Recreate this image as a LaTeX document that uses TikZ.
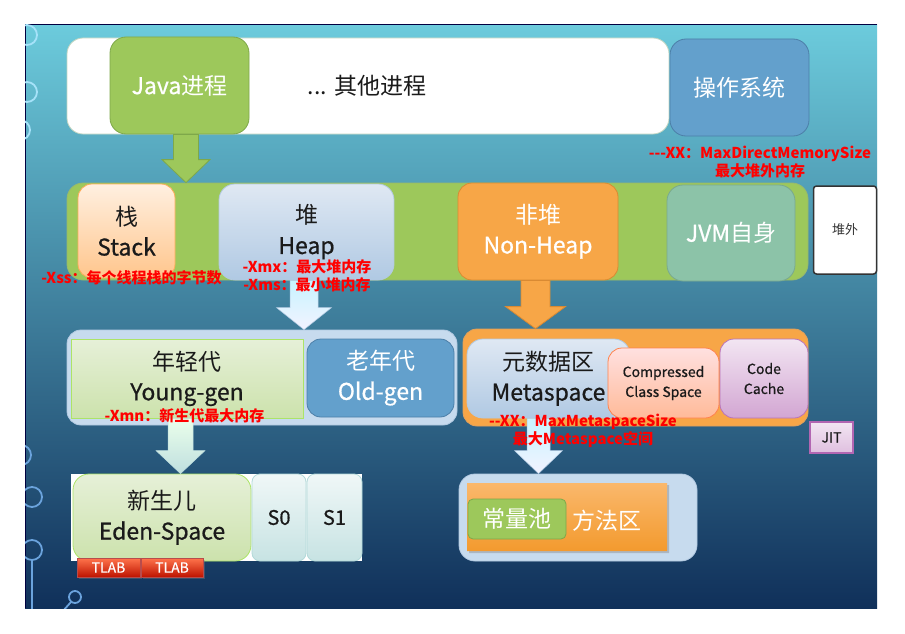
\documentclass[tikz,border=0pt]{standalone}
\usepackage{fontspec}
\setmainfont{Noto Sans CJK SC}
\newfontfamily\lat{Noto Sans CJK SC}[FakeBold=0.7]
\usetikzlibrary{calc,shadows,shapes.misc}
\definecolor{bgtop}{HTML}{6CCBDC}
\definecolor{bgmid}{HTML}{3F94BA}
\definecolor{bgbot}{HTML}{10305A}
\definecolor{gfill}{HTML}{9DC85B}
\definecolor{gedge}{HTML}{7EA84A}
\definecolor{bfill}{HTML}{63A0CC}
\definecolor{bedge}{HTML}{4C7FA8}
\definecolor{tfill}{HTML}{8CC3A8}
\definecolor{tedge}{HTML}{79A98F}
\definecolor{ofill}{HTML}{F7A647}
\definecolor{oedge}{HTML}{D98A33}
\definecolor{lbfill}{HTML}{C7DBEE}
\definecolor{lbedge}{HTML}{B3CAE2}
\definecolor{redtxt}{HTML}{FF0000}
\definecolor{darktxt}{HTML}{1A1A1A}
\definecolor{ygtop}{HTML}{E6F0D8}
\definecolor{ygbot}{HTML}{CCE2AC}
\definecolor{hptop}{HTML}{DFE8F3}
\definecolor{hpbot}{HTML}{B0C9E3}
\definecolor{mtop}{HTML}{FAB86C}
\definecolor{mbot}{HTML}{F39A2E}
\newcommand\blockarrow[6]{%
  \path[#1] let \p1=(#2), \p2=(#2 |- #3) in
  (\x1-#4pt,\y1) -- (\x1+#4pt,\y1) -- (\x1+#4pt,\y2+#6pt) -- (\x1+#5pt,\y2+#6pt)
  -- (\x1,\y2) -- (\x1-#5pt,\y2+#6pt) -- (\x1-#4pt,\y2+#6pt) -- cycle;}
\begin{document}
\begin{tikzpicture}[x=1pt,y=-1pt,
  box/.style={inner sep=0pt, align=center, line width=0.8pt},
  big/.style={font=\fontsize{23}{30}\selectfont},
  small/.style={font=\lat\fontsize{14}{20}\selectfont},
  redlbl/.style={inner sep=0pt, align=center, text=redtxt, font=\bfseries\fontsize{15}{18}\selectfont},
  decotop/.style={draw=cyan!35!white, line width=1.8pt},
  decobot/.style={draw=cyan!60!blue!60!white, line width=1.8pt},
  lbgrad/.style={top color=hptop, bottom color=hpbot, draw=lbedge},
  tlabstyle/.style={box, font=\lat\fontsize{14}{15}\selectfont, top color=red!55!orange!70!white, bottom color=red!70!black!85!orange, draw=red!60!black!70, minimum height=19pt, text=white, drop shadow={opacity=0.35, shadow xshift=1.5pt, shadow yshift=-1.5pt}},
  survivor/.style={box, font=\lat\fontsize{20}{24}\selectfont, top color=teal!6!white, bottom color=teal!22!white, draw=teal!30!white, rounded corners=8pt, minimum height=87pt, text=darktxt},
]
\useasboundingbox (0,0) rectangle (905,634);
\fill[white] (0,0) rectangle (905,634);
\shade[top color=bgtop, middle color=bgmid, bottom color=bgbot] (25,25) rectangle (877,608);
\draw[black!75!blue, line width=1pt] (25,608) -- (25,25) -- (877,25);
\begin{scope}
  \clip (25,25) rectangle (877,608);
  \draw[decotop] (27,35) circle (10pt);
  \draw[decotop] (27,92) circle (10pt);
  \draw[decotop] (20,130) circle (10pt);
  \draw[decobot] (21,455) circle (10pt);
  \draw[decobot] (32,497) circle (10pt);
  \draw[decobot] (32,550) circle (10pt);
  \draw[decobot] (32,560) -- (32,610);
  \draw[decobot] (75,597) circle (6pt);
  \draw[decobot] (71,602) -- (63,611);
\end{scope}

% process band
\node[box, fill=white, draw=green!20!gray!40, rounded corners=16pt, minimum width=602pt, minimum height=96pt] (proc) at (368,86) {};
\node[box, big, fill=gfill, draw=gedge, rounded corners=16pt, minimum width=139pt, minimum height=97pt, text=white] (java) at (179.5,85.5) {{\lat Java}进程};
\node[box, big, text=darktxt] (others) at (367,86) {... 其他进程};
\node[box, big, fill=bfill, draw=bedge, rounded corners=16pt, minimum width=139pt, minimum height=97pt, text=white] (os) at (739.5,87.5) {操作系统};
\node[redlbl] (maxdirect) at (760,162) {-{}-{}-XX：MaxDirectMemorySize\\最大堆外内存};

% JVM band
\node[box, fill=gfill, draw=gedge!80, rounded corners=16pt, minimum width=741pt, minimum height=97pt] (jvm) at (437.5,231.5) {};
\blockarrow{fill=gfill, draw=gedge, line width=0.8pt}{[xshift=6.5pt]java.south}{jvm.north}{12.5}{24}{23}
\node[box, big, top color=orange!12!white, bottom color=orange!45!white, draw=orange!65!white, rounded corners=14pt, minimum width=97pt, minimum height=94pt, text=darktxt] (stack) at (126.5,231) {栈\\{\lat Stack}};
\node[box, big, lbgrad, rounded corners=16pt, minimum width=175pt, minimum height=96pt, text=darktxt] (heap) at (306.5,232) {堆\\{\lat Heap}};
\node[box, big, fill=ofill, draw=oedge, rounded corners=14pt, minimum width=160pt, minimum height=97pt, text=white] (nonheap) at (538,231.5) {非堆\\{\lat Non-Heap}};
\node[box, big, fill=tfill, draw=tedge, rounded corners=16pt, minimum width=128pt, minimum height=96pt, text=white] (jvmself) at (731,233) {{\lat JVM}自身};
\node[box, fill=white, draw=black!80, line width=1.5pt, rounded corners=3pt, minimum width=63pt, minimum height=88pt, text=black!80, font=\fontsize{13}{15}\selectfont] (heapout) at (845,230) {堆外};

% second row containers
\node[box, fill=lbfill, draw=lbedge, rounded corners=14pt, minimum width=390pt, minimum height=95pt] (younggroup) at (262,377.5) {};
\node[box, fill=ofill, draw=oedge!80, rounded corners=14pt, minimum width=345pt, minimum height=97pt] (metagroup) at (635.5,377.5) {};
\blockarrow{top color=blue!20!cyan!22!white, bottom color=blue!5!white, draw=lbedge, line width=0.5pt}{[xshift=-2.5pt]heap.south}{younggroup.north}{14}{27.5}{22}
\blockarrow{fill=ofill, draw=oedge, line width=0.8pt}{[xshift=-2.5pt]nonheap.south}{metagroup.north}{14.5}{30}{22}

\node[box, big, top color=ygtop, bottom color=ygbot, draw=green!45!yellow!70!gray!70, minimum width=232pt, minimum height=79pt, text=darktxt] (young) at (187,378.5) {年轻代\\{\lat Young-gen}};
\node[box, big, fill=bfill, draw=bedge, rounded corners=14pt, minimum width=147pt, minimum height=78pt, text=white] (old) at (380.5,378) {老年代\\{\lat Old-gen}};
\node[box, big, lbgrad, rounded corners=16pt, minimum width=163pt, minimum height=79pt, text=darktxt] (meta) at (548.5,378.5) {元数据区\\{\lat Metaspace}};
\node[box, small, top color=red!12!white, bottom color=red!35!orange!40!white, draw=red!40!orange!70!white, rounded corners=14pt, minimum width=111pt, minimum height=70pt, text=darktxt] (ccs) at (663.5,383) {Compressed\\Class Space};
\node[box, small, top color=violet!10!white, bottom color=violet!35!white, draw=violet!55!white, rounded corners=14pt, minimum width=88pt, minimum height=79pt, text=darktxt] (code) at (764,378.5) {Code\\Cache};
\node[box, small, top color=violet!10!white, bottom color=violet!25!white, draw=violet!60!white, line width=1.2pt, minimum width=43pt, minimum height=31pt, text=darktxt] (jit) at (831.5,437.5) {JIT};

% third row
\node[box, fill=white, minimum width=291pt, minimum height=87pt] (edenbg) at (216.5,517.5) {};
\node[box, big, top color=ygtop, bottom color=ygbot, draw=green!45!yellow!70!gray!70, rounded corners=16pt, minimum width=178pt, minimum height=87pt, text=darktxt] (eden) at (162,517.5) {新生儿\\{\lat Eden-Space}};
\node[survivor, minimum width=54pt] (s0) at (279,517.5) {S0};
\node[survivor, minimum width=55pt] (s1) at (334.5,517.5) {S1};
\node[tlabstyle, minimum width=63pt] (tlab1) at (108.5,567.5) {TLAB};
\node[tlabstyle, minimum width=62pt] (tlab2) at (172,567.5) {TLAB};
\blockarrow{top color=green!8!white, bottom color=teal!25!white, draw=teal!25!white, line width=0.5pt}{[xshift=-6.5pt]young.south}{eden.north}{12.5}{24.5}{23}

\node[box, fill=lbfill, draw=lbedge, rounded corners=16pt, minimum width=238pt, minimum height=87pt] (methodgroup) at (578,517.5) {};
\blockarrow{top color=blue!20!cyan!22!white, bottom color=blue!5!white, draw=lbedge, line width=0.5pt}{[xshift=-10pt]meta.south}{methodgroup.north}{11.5}{24}{23}
\node[chamfered rectangle, chamfered rectangle corners=north east, chamfered rectangle xsep=12pt, chamfered rectangle ysep=12pt, inner sep=0pt, minimum width=200pt, minimum height=68pt, top color=mtop, bottom color=mbot, drop shadow={opacity=0.4, shadow xshift=2pt, shadow yshift=-2pt}] (method) at (567,517) {};
\node[box, big, text=white] (methodtxt) at (607,521) {方法区};
\node[box, big, fill=gfill, draw=gedge, rounded corners=5pt, minimum width=98pt, minimum height=40pt, text=white] (pool) at (517,519) {常量池};

% red labels
\node[redlbl] (xss) at (131.5,278) {-Xss：每个线程栈的字节数};
\node[redlbl] (xmx) at (307,276) {-Xmx：最大堆内存\\-Xms：最小堆内存};
\node[redlbl] (xmn) at (184.5,416) {-Xmn：新生代最大内存};
\node[redlbl] (xxmeta) at (583,431) {-{}-XX：MaxMetaspaceSize\\最大Metaspace空间};
\end{tikzpicture}
\end{document}
